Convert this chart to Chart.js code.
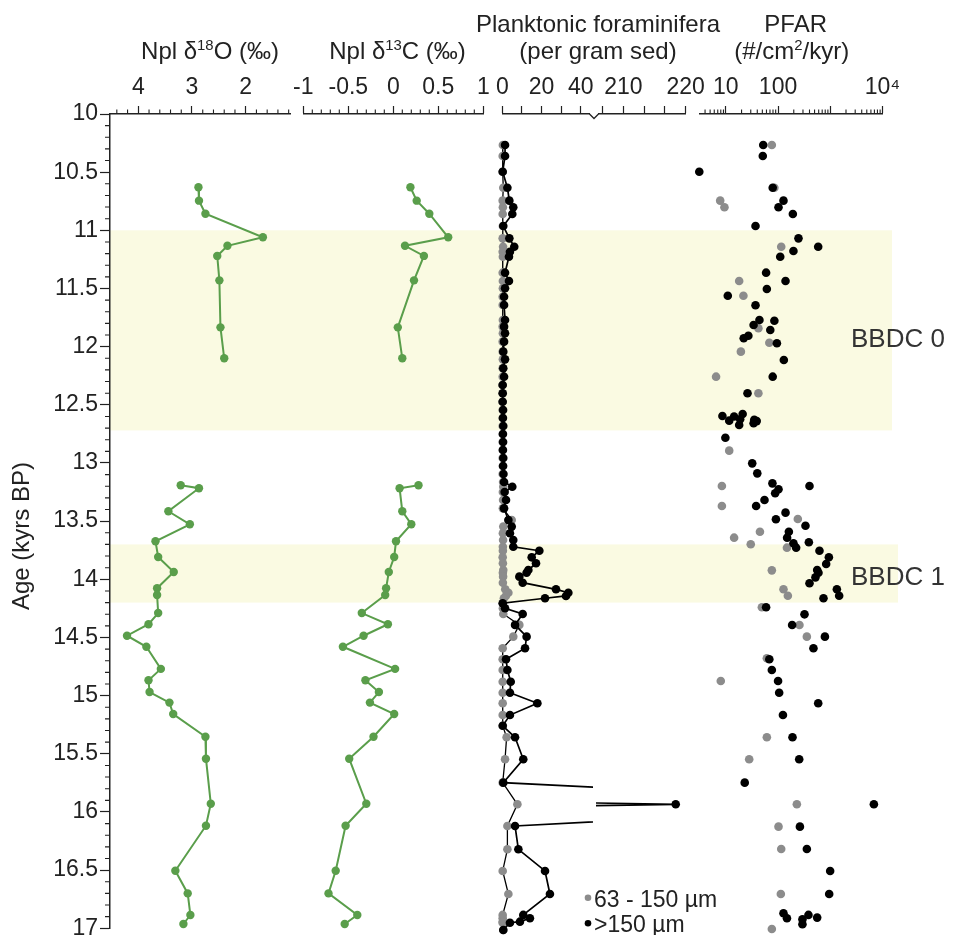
<!DOCTYPE html>
<html>
<head>
<meta charset="utf-8">
<script src="https://cdn.jsdelivr.net/npm/chart.js@4/dist/chart.umd.min.js"></script>
<style>
body{margin:0;background:#fff;}
canvas{display:block;}
</style>
</head>
<body>
<canvas id="core" width="954" height="935"></canvas>
<script>
// Ages in kyrs BP. Isotope gap between 12.1 and 13.2 kept as null
let isoAges = [10.63,10.745,10.857,11.06,11.133,11.22,11.43,11.834,12.10, 12.6,
  13.192,13.217,13.415,13.527,13.673,13.808,13.937,14.077,14.135,14.29,
  14.386,14.485,14.58,14.77,14.868,14.969,15.06,15.158,15.353,15.542,
  15.929,16.118,16.505,16.70,16.886,16.963];
let d18O = [2.88,2.87,2.75,1.68,2.34,2.53,2.49,2.47,2.40, null,
  3.21,2.87,3.44,3.04,3.68,3.63,3.34,3.65,3.65,3.63,
  3.81,4.21,3.85,3.58,3.81,3.79,3.42,3.35,2.75,2.74,
  2.65,2.74,3.31,3.08,3.03,3.16];
let d13C = [0.19,0.26,0.40,0.61,0.13,0.34,0.23,0.05,0.10, null,
  0.28,0.07,0.10,0.20,0.03,0.01,-0.05,-0.08,-0.09,-0.35,
  -0.06,-0.33,-0.56,0.02,-0.31,-0.16,-0.26,0.01,-0.22,-0.49,
  -0.30,-0.53,-0.64,-0.72,-0.40,-0.54];

// Planktonic foraminifera per gram sediment
let foramAges = [10.266,10.361,10.496,10.634,10.745,10.802,10.860,10.963,11.069,11.141,
  11.184,11.227,11.364,11.436,11.498,11.571,11.642,11.771,11.828,11.885,
  11.957,12.043,12.109,12.186,12.258,12.330,12.401,12.473,12.544,12.613,
  12.682,12.751,12.820,12.888,12.957,13.026,13.095,13.163,13.204,13.249,
  13.318,13.390,13.490,13.547,13.604,13.662,13.720,13.754,13.811,13.862,
  13.920,13.943,13.977,14.029,14.086,14.115,14.143,14.163,14.206,14.249,
  14.298,14.392,14.493,14.593,14.687,14.779,14.880,14.975,15.066,15.167,
  15.259,15.358,15.547,15.748,15.934,16.120,16.321,16.507,16.705,16.885,
  16.914,16.943,16.952,17.014];
let foramCoarse = [1.4,1.4,0.2,2.6,3.6,5.6,5.1,0.5,3.6,6.1,
  3.9,3.4,1.4,3.4,1.4,0.9,0.9,1.4,0.9,1.4,
  0.9,0.5,1.4,0.5,0.9,0.2,0.2,0.2,0.4,0.3,
  0.5,0.3,0.4,0.3,0.5,0.4,0.6,0.9,5.1,1.2,
  1.9,0.9,3.1,4.8,3.9,5.6,5.6,18.9,15.0,17.2,
  13.3,12.4,8.7,10.4,27.4,33.7,32.5,21.8,0.2,1.4,
  10.4,6.5,12.4,11.6,1.9,2.6,4.3,3.9,17.9,3.9,
  0.2,6.5,10.7,0.5,218.4,6.5,8.2,21.8,24.3,10.7,
  14.1,9.0,3.9,0.5];
let foramFine = [0.3,0.2,0.2,0.5,0.2,0.3,0.2,0.3,0.2,0.4,
  0.2,0.3,0.2,0.3,0.3,0.2,0.2,0.3,0.2,0.3,
  0.2,0.2,0.3,0.2,0.2,0.1,0.2,0.1,0.2,0.3,
  0.2,0.3,0.2,0.3,0.2,0.3,0.2,0.4,0.5,0.3,
  0.4,0.3,4.8,0.5,0.3,0.4,0.3,0.3,0.2,0.3,
  0.5,0.3,0.4,0.3,1.5,3.1,1.8,0.8,0.3,0.3,
  0.5,8.7,5.6,0.2,0.2,0.2,0.2,0.2,0.2,0.2,
  0.3,2.2,1.4,0.2,7.7,2.6,2.6,0.2,3.1,0.2,
  0.2,0.2,0.2,0.5];

// PFAR (#/cm2/kyr)
let pfarAgesCoarse = [10.266,10.361,10.496,10.634,10.745,10.802,10.860,10.963,11.069,11.141,
  11.178,11.227,11.364,11.436,11.504,11.562,11.644,11.771,11.777,11.814,
  11.857,11.906,11.928,11.971,12.115,12.258,12.401,12.579,12.596,12.600,
  12.624,12.628,12.636,12.640,12.659,12.673,12.783,13.003,13.089,13.175,
  13.198,13.226,13.260,13.318,13.370,13.427,13.484,13.539,13.591,13.642,
  13.682,13.690,13.728,13.754,13.811,13.868,13.920,13.943,13.983,14.034,
  14.086,14.141,14.163,14.240,14.301,14.393,14.493,14.593,14.687,14.779,
  14.874,14.975,15.066,15.167,15.358,15.547,15.748,15.934,16.126,16.318,
  16.507,16.705,16.871,16.885,16.908,16.914,16.922,16.965];
let pfarCoarse = [52,51,3.1,79,127,102,192,37,246,587,
  197,110,59,139,61,10.9,37,44,85,34,
  71,27,22,95,129,79,26,21,8.6,14.4,
  18.8,35,11.6,39,34,18,9.8,32,40,78,
  400,102,88,55,38,139,91,335,161,149,
  389,197,222,621,940,834,561,594,520,400,
  1337,1479,741,59,321,186,789,476,68,76,
  100,105,587,124,189,254,23,6839,262,356,
  995,953,127,382,561,148,293,293];
let pfarAgesFine = [10.266,10.634,10.745,10.802,11.141,11.436,11.562,11.842,11.966,12.043,
  12.258,12.401,12.894,13.198,13.370,13.482,13.591,13.642,13.699,13.728,
  13.923,14.086,14.141,14.240,14.393,14.493,14.679,14.874,15.358,15.547,
  15.934,16.126,16.318,16.705,17.006];
let pfarFine = [76,85,7.8,9.4,115,18,21.7,42,68,19.4,
  6.5,42,11.6,8.4,8.4,239,45,14.4,30,148,
  76,127,154,49,257,356,61,8.0,61,28,
  229,102,115,113,76];

// Shaded intervals
let bandAges = [[11.0, 12.72], [13.70, 14.20]];
let bandLabels = ['BBDC 0', 'BBDC 1'];
let legendLabels = ['63 - 150 µm', '>150 µm'];

// Tick values and labels
let ageTicks = [10,10.5,11,11.5,12,12.5,13,13.5,14,14.5,15,15.5,16,16.5,17];
let o18Ticks = [4,3,2];
let o18Labels = ['4','3','2'];
let c13Ticks = [-1,-0.5,0,0.5,1];
let c13Labels = ['-1','-0.5','0','0.5','1'];
let foramLoTicks = [0,10,20,30,40];
let foramLoLabels = ['0','','20','','40'];
let foramHiTicks = [206.667,210,213.333,216.667,220];
let foramHiLabels = ['','210','','','220'];
let pfarTicks = [10,100,1000,10000];
let pfarLabels = ['10','100','','10⁴'];

let o18Minor = [], c13Minor = [], ageMinor = [], pfarMinor = [];
for(let k=44;k>=12;k-=2){ if(k%10) o18Minor.push(k/10); }
for(let k=-10;k<=10;k++){ if(k%5) c13Minor.push(k/10); }
for(let k=100;k<=170;k++){ if(k%5) ageMinor.push(k/10); }
[1,10,100,1000].forEach(d=>{ for(let m=2;m<=9;m++){ if(m*d>=3.3) pfarMinor.push(m*d); } });

const FONT = "'Liberation Sans', Arial, Helvetica, sans-serif";
const INK = '#222';
const GREEN = '#5a9e4b';
const GREY = '#8c8c8c';
Chart.defaults.font.family = FONT;
Chart.defaults.color = INK;

const pts = (ages, vals) => ages.map((a,i)=>({x: vals[i], y: a}));
const labeler = (vals, labs) => v => { let i = vals.findIndex(t=>Math.abs(t-v)<1e-3); return i<0 ? '' : labs[i]; };

function topAxis(type, min, max, weight, tv, tl, reverse){
    return {
        axis:'x', type:type, position:'top', stack:'top', stackWeight:weight,
        min:min, max:max, reverse:!!reverse, bounds:'data',
        grid:{drawOnChartArea:false, tickLength:8, tickColor:INK, tickWidth:1.2, color:INK},
        border:{color:INK, width:1.5},
        ticks:{autoSkip:false, maxRotation:0, minRotation:0, padding:5, color:INK, font:{size:23}, callback: labeler(tv, tl)},
        afterBuildTicks: s => { s.ticks = tv.map(v=>({value:v})); },
        afterFit: s => { s.height = 114; s.paddingLeft = 0; s.paddingRight = 0; }
    };
}
function spacer(weight){
    return {
        axis:'x', type:'linear', position:'top', stack:'top', stackWeight:weight, min:0, max:1,
        grid:{display:false}, border:{display:false}, ticks:{display:false},
        afterFit: s => { s.height = 114; s.paddingLeft = 0; s.paddingRight = 0; }
    };
}

let datasets = [
    {data: pts(foramAges, foramCoarse), xAxisID:'fL', segClip:'fL', borderColor:'#000', borderWidth:1.7,
     pointBackgroundColor:'#000', pointRadius:4.3},
    {data: pts(foramAges, foramCoarse), xAxisID:'fR', segClip:'fR', borderColor:'#000', borderWidth:1.7,
     pointBackgroundColor:'#000', pointRadius:4.3},
    {data: pts(foramAges, foramFine), xAxisID:'fL', segClip:'fL', borderColor:'#000', borderWidth:1.3,
     pointBackgroundColor:GREY, pointRadius:4.3},
    {data: pts(pfarAgesCoarse, pfarCoarse), xAxisID:'pfar', showLine:false,
     pointBackgroundColor:'#000', pointRadius:4.3},
    {data: pts(pfarAgesFine, pfarFine), xAxisID:'pfar', showLine:false,
     pointBackgroundColor:GREY, pointRadius:4.3},
    {data: pts(isoAges, d18O), xAxisID:'o18', borderColor:GREEN, borderWidth:2,
     pointBackgroundColor:GREEN, pointRadius:4.2},
    {data: pts(isoAges, d13C), xAxisID:'c13', borderColor:GREEN, borderWidth:2,
     pointBackgroundColor:GREEN, pointRadius:4.2}
];
datasets.forEach(d=>{ d.yAxisID='age'; d.clip=false; d.pointBorderWidth=0; d.tension=0; d.spanGaps=false; });

function drawRich(ctx, parts, cx, base, size){
    let w = 0;
    parts.forEach(p=>{ ctx.font = (p[1] ? size*0.62 : size)+'px '+FONT; w += ctx.measureText(p[0]).width; });
    let x = cx - w/2;
    ctx.textAlign='left'; ctx.textBaseline='alphabetic';
    parts.forEach(p=>{
        ctx.font = (p[1] ? size*0.62 : size)+'px '+FONT;
        ctx.fillText(p[0], x, p[1] ? base - size*0.36 : base);
        x += ctx.measureText(p[0]).width;
    });
}

const decor = {
    id:'decor',
    beforeDraw(chart){
        const ctx = chart.ctx, y = chart.scales.age;
        const rights = [892, 898];
        ctx.save();
        ctx.fillStyle = 'rgb(250,250,226)';
        bandAges.forEach((b,i)=>{
            let y0 = y.getPixelForValue(b[0]), y1 = y.getPixelForValue(b[1]);
            ctx.fillRect(chart.chartArea.left, y0, rights[i]-chart.chartArea.left, y1-y0);
        });
        ctx.restore();
    },
    beforeDatasetDraw(chart, args){
        const ds = chart.data.datasets[args.index];
        if(!ds.segClip) return;
        const s = chart.scales[ds.segClip];
        const l = ds.segClip==='fL' ? s.left-12 : s.left+2;
        const r = ds.segClip==='fL' ? s.right-1 : s.right+12;
        chart.ctx.save();
        chart.ctx.beginPath();
        chart.ctx.rect(l, 0, r-l, chart.height);
        chart.ctx.clip();
    },
    afterDatasetDraw(chart, args){
        if(chart.data.datasets[args.index].segClip) chart.ctx.restore();
    },
    afterDraw(chart){
        const ctx = chart.ctx, sc = chart.scales;
        ctx.save();
        // minor ticks
        ctx.strokeStyle = INK; ctx.lineWidth = 1.1;
        ctx.beginPath();
        [['o18',o18Minor],['c13',c13Minor],['pfar',pfarMinor]].forEach(([id,vals])=>{
            const s = sc[id];
            vals.forEach(v=>{ let x = s.getPixelForValue(v); ctx.moveTo(x, s.bottom); ctx.lineTo(x, s.bottom-4.5); });
        });
        ageMinor.forEach(v=>{ let y = sc.age.getPixelForValue(v); ctx.moveTo(sc.age.right, y); ctx.lineTo(sc.age.right-5, y); });
        ctx.stroke();
        // axis break notch
        const bx = sc.fR.left, by = sc.fR.bottom;
        ctx.fillStyle = '#fff';
        ctx.fillRect(bx-4, by-1.5, 8, 3);
        ctx.lineWidth = 1.3;
        ctx.beginPath(); ctx.moveTo(bx-4.5, by); ctx.lineTo(bx, by+4.5); ctx.lineTo(bx+4.5, by); ctx.stroke();
        // titles
        ctx.fillStyle = INK;
        drawRich(ctx, [['Npl δ'],['18',1],['O (‰)']], 210, 58.5, 24);
        drawRich(ctx, [['Npl δ'],['13',1],['C (‰)']], 397.5, 58.5, 24);
        drawRich(ctx, [['Planktonic foraminifera']], 598, 31.7, 24);
        drawRich(ctx, [['(per gram sed)']], 598, 58.5, 24);
        drawRich(ctx, [['PFAR']], 795.7, 31.7, 24);
        drawRich(ctx, [['(#/cm'],['2',1],['/kyr)']], 791.7, 58.5, 24);
        // y title
        ctx.save();
        ctx.translate(29, 536); ctx.rotate(-Math.PI/2);
        ctx.font = '24px '+FONT; ctx.textAlign='center'; ctx.textBaseline='alphabetic';
        ctx.fillText('Age (kyrs BP)', 0, 0);
        ctx.restore();
        // band labels
        ctx.font = '26px '+FONT; ctx.fillStyle = '#333'; ctx.textAlign='left';
        ctx.fillText(bandLabels[0], 851, 346.8);
        ctx.fillText(bandLabels[1], 851, 585);
        // legend
        const ds = chart.data.datasets;
        [[ds[2].pointBackgroundColor, 897.7, 906.7], [ds[0].pointBackgroundColor, 923.3, 931.7]].forEach((e,i)=>{
            ctx.fillStyle = e[0];
            ctx.beginPath(); ctx.arc(588, e[1], 3.3, 0, Math.PI*2); ctx.fill();
            ctx.fillStyle = INK; ctx.font = '23px '+FONT;
            ctx.fillText(legendLabels[i], 594, e[2]);
        });
        ctx.restore();
    }
};

// top axes are listed right-to-left: Chart.js places a top stack in reverse order
new Chart(document.getElementById('core'), {
    type:'line',
    data:{datasets},
    options:{
        indexAxis:'y', responsive:false, animation:false, events:[], devicePixelRatio:1,
        layout:{padding:{left:0, top:0, right:71.5, bottom:6.7}},
        plugins:{legend:{display:false}, tooltip:{enabled:false}},
        scales:{
            age:{
                axis:'y', type:'linear', position:'left', reverse:true, min:10, max:17,
                grid:{drawOnChartArea:false, tickLength:10, tickColor:INK, tickWidth:1.2, color:INK},
                border:{color:INK, width:1.5},
                ticks:{autoSkip:false, padding:2, color:INK, font:{size:23}, callback: v => String(v)},
                afterBuildTicks: s => { s.ticks = ageTicks.map(v=>({value:v})); },
                afterFit: s => { s.width = 110; s.paddingTop = 0; s.paddingBottom = 0; }
            },
            pfar: topAxis('logarithmic',3.2,10000,182.5,pfarTicks,pfarLabels),
            gap3: spacer(14.3),
            fR: topAxis('linear',205.3,220,91.7,foramHiTicks,foramHiLabels),
            fL: topAxis('linear',0,46.79,91.7,foramLoTicks,foramLoLabels),
            gap2: spacer(19),
            c13: topAxis('linear',-1,1,180,c13Ticks,c13Labels),
            gap1: spacer(13.3),
            o18: topAxis('linear',1.175,4.527,180,o18Ticks,o18Labels,true)
        }
    },
    plugins:[decor]
});
</script>
</body>
</html>
